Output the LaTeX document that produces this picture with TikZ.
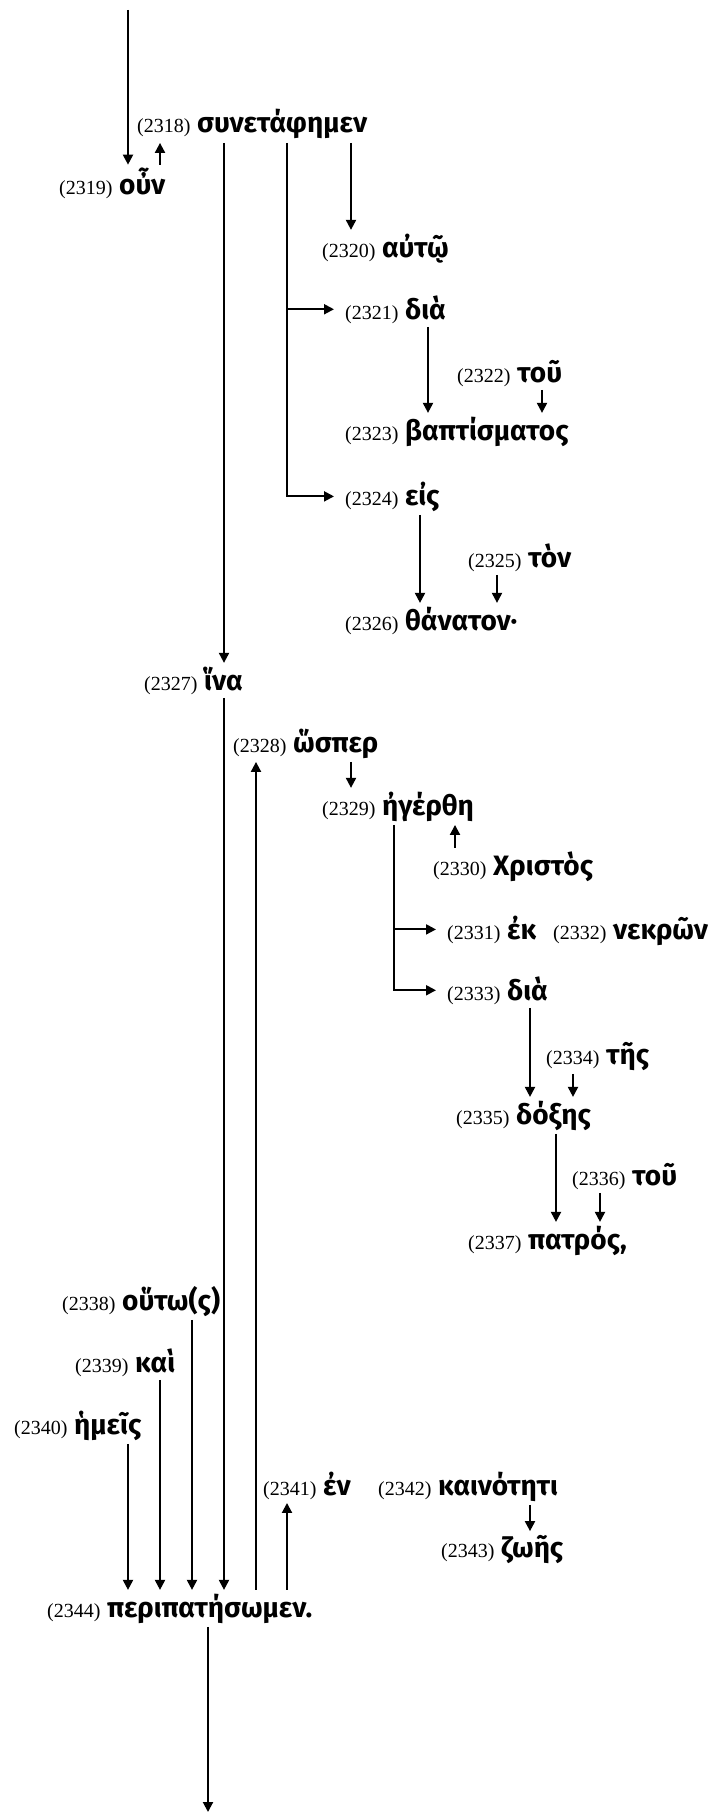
\documentclass[tikz,border=0pt]{standalone}
\usepackage{fontspec}
\setmainfont{Liberation Serif}
\newfontfamily\grkfont{Fira Sans}
\usepackage{tikz}
\usetikzlibrary{arrows.meta}
\tikzstyle{arrow} = [line width=2pt,-{Triangle[length=10pt,width=10pt]}]
\tikzstyle{branch} = [arrow,shorten >=11pt]
\tikzstyle{word} = [anchor=base west,inner xsep=0pt,inner ysep=3.5pt,font=\grkfont\bfseries\fontsize{28}{32}\selectfont]
\newcommand{\wnum}[1]{{\rmfamily\mdseries\fontsize{20}{24}\selectfont(#1)} }

\begin{document}
\begin{tikzpicture}[x=1pt,y=-1pt]
	\useasboundingbox (0,0) rectangle (712,1814);
	\foreach \x in {128,160,192,208,224,256,287,351,394,420,428,455,497,530,542,556,573,600}
		\coordinate (x\x) at (\x,0);
	\coordinate (top) at (128,10);
	\coordinate (bottom) at (208,1812);
	\node[word] (n2318) at (137,133) {\wnum{2318}συνετάφημεν};
	\node[word] (n2319) at (59,195) {\wnum{2319}οὖν};
	\node[word] (n2320) at (322,257) {\wnum{2320}αὐτῷ};
	\node[word] (n2321) at (345,319) {\wnum{2321}διὰ};
	\node[word] (n2322) at (457,382) {\wnum{2322}τοῦ};
	\node[word] (n2323) at (345,440) {\wnum{2323}βαπτίσματος};
	\node[word] (n2324) at (345,505) {\wnum{2324}εἰς};
	\node[word] (n2325) at (468,567) {\wnum{2325}τὸν};
	\node[word] (n2326) at (345,630) {\wnum{2326}θάνατον·};
	\node[word] (n2327) at (144,690) {\wnum{2327}ἵνα};
	\node[word] (n2328) at (233,752) {\wnum{2328}ὥσπερ};
	\node[word] (n2329) at (322,815) {\wnum{2329}ἠγέρθη};
	\node[word] (n2330) at (433,875) {\wnum{2330}Χριστὸς};
	\node[word] (n2331) at (447,939) {\wnum{2331}ἐκ};
	\node[word] (n2332) at (553,939) {\wnum{2332}νεκρῶν};
	\node[word] (n2333) at (447,1000) {\wnum{2333}διὰ};
	\node[word] (n2334) at (546,1064) {\wnum{2334}τῆς};
	\node[word] (n2335) at (456,1124) {\wnum{2335}δόξης};
	\node[word] (n2336) at (572,1185) {\wnum{2336}τοῦ};
	\node[word] (n2337) at (468,1249) {\wnum{2337}πατρός,};
	\node[word] (n2338) at (62,1310) {\wnum{2338}οὕτω(ς)};
	\node[word] (n2339) at (75,1372) {\wnum{2339}καὶ};
	\node[word] (n2340) at (14,1434) {\wnum{2340}ἡμεῖς};
	\node[word] (n2341) at (263,1495) {\wnum{2341}ἐν};
	\node[word] (n2342) at (378,1495) {\wnum{2342}καινότητι};
	\node[word] (n2343) at (441,1557) {\wnum{2343}ζωῆς};
	\node[word] (n2344) at (47,1617) {\wnum{2344}περιπατήσωμεν.};
	\draw[arrow] (top) -- (n2319.north -| x128);
	\draw[arrow] (n2319.north -| x160) -- (n2318.south -| x160);
	\draw[arrow] (n2318.south -| x224) -- (n2327.north -| x224);
	\draw[branch] (n2318.south -| x287) |- (n2324.west);
	\draw[branch] (n2321.west -| x287) -- (n2321.west);
	\draw[arrow] (n2318.south -| x351) -- (n2320.north -| x351);
	\draw[arrow] (n2321.south -| x428) -- (n2323.north -| x428);
	\draw[arrow] (n2322.south -| x542) -- (n2323.north -| x542);
	\draw[arrow] (n2324.south -| x420) -- (n2326.north -| x420);
	\draw[arrow] (n2325.south -| x497) -- (n2326.north -| x497);
	\draw[arrow] (n2327.south -| x224) -- (n2344.north -| x224);
	\draw[arrow] (n2344.north -| x256) -- (n2328.south -| x256);
	\draw[arrow] (n2328.south -| x351) -- (n2329.north -| x351);
	\draw[arrow] (n2330.north -| x455) -- (n2329.south -| x455);
	\draw[branch] (n2329.south -| x394) |- (n2333.west);
	\draw[branch] (n2331.west -| x394) -- (n2331.west);
	\draw[arrow] (n2333.south -| x530) -- (n2335.north -| x530);
	\draw[arrow] (n2334.south -| x573) -- (n2335.north -| x573);
	\draw[arrow] (n2335.south -| x556) -- (n2337.north -| x556);
	\draw[arrow] (n2336.south -| x600) -- (n2337.north -| x600);
	\draw[arrow] (n2338.south -| x192) -- (n2344.north -| x192);
	\draw[arrow] (n2339.south -| x160) -- (n2344.north -| x160);
	\draw[arrow] (n2340.south -| x128) -- (n2344.north -| x128);
	\draw[arrow] (n2344.north -| x287) -- (n2341.south -| x287);
	\draw[arrow] (n2342.south -| x530) -- (n2343.north -| x530);
	\draw[arrow] (n2344.south -| x208) -- (bottom);
\end{tikzpicture}
\end{document}
